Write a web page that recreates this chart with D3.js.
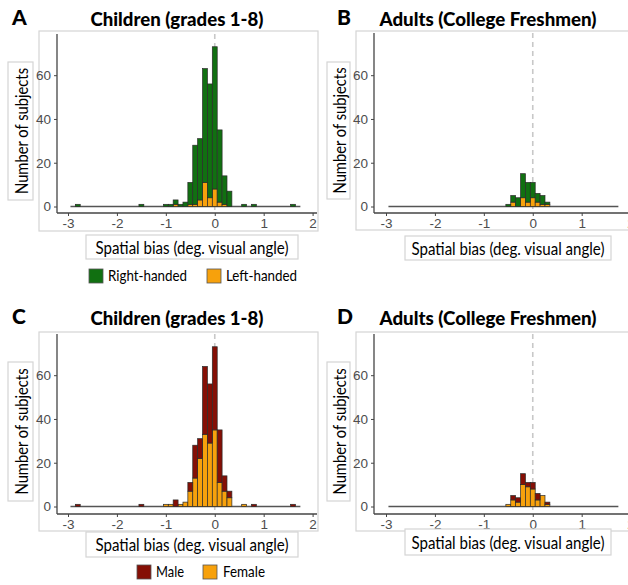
<!DOCTYPE html>
<html>
<head>
<meta charset="utf-8">
<script src="https://cdn.jsdelivr.net/npm/d3@7"></script>
<style>
body{margin:0;background:#fff}
</style>
</head>
<body>
<script>
// histogram bins (centres, binwidth 0.1 deg.)
const childBins   = [-2.8,-1.5,-1.0,-0.9,-0.8,-0.7,-0.6,-0.5,-0.4,-0.3,-0.2,-0.1,0.0,0.1,0.2,0.3,0.6,0.8,1.6];
const childRight  = [1,1,1,1,2,1,2,10,27,28,52,52,65,33,13,7,1,1,1];
const childLeft   = [0,0,0,0,1,0,0,1,1,3,11,4,8,2,1,0,0,0,0];
const childMale   = [1,1,0,0,3,0,0,4,15,9,31,27,38,24,7,3,0,1,1];
const childFemale = [0,0,1,1,0,1,2,7,13,22,33,29,35,11,7,4,1,0,0];

const adultBins   = [-0.5,-0.4,-0.3,-0.2,-0.1,0.0,0.1,0.2,0.3];
const adultRight  = [1,3,4,11,9,7,4,4,1];
const adultLeft   = [0,2,0,4,2,4,2,1,1];
const adultMale   = [0,2,2,5,2,3,3,0,1];
const adultFemale = [1,3,2,10,9,8,3,5,1];

const xTicks = [-3,-2,-1,0,1,2];
const yTicks = [0,20,40,60];
const binW = 0.1;

const green = "#117011", orange = "#f7a10c", darkred = "#850f05";
const boxCol = "#d4d4d4";
const calibri = "Lato, 'Open Sans', sans-serif";

const svg = d3.select("body").append("svg")
    .attr("width",628)
    .attr("height",585);

// panel layouts (pixel frames)
const panels = [
  {letter:"A", title:"Children (grades 1-8)", bins:childBins, lower:childLeft, upper:childRight,
   cLow:orange, cUp:green, xl:68, axX:57, y0:206.5, axTop:34, axBot:213, frame:[39,31,279,200],
   ylab:[8,62,25,138], xlab:[86,235,212,24], titleX:177, titleY:26, letterX:12},
  {letter:"B", title:"Adults (College Freshmen)", bins:adultBins, lower:adultLeft, upper:adultRight,
   cLow:orange, cUp:green, xl:386, axX:374, y0:206.5, axTop:33, axBot:213, frame:[356,31,300,199],
   ylab:[327,62,23,137], xlab:[405,236,206,24], titleX:488, titleY:26, letterX:337},
  {letter:"C", title:"Children (grades 1-8)", bins:childBins, lower:childFemale, upper:childMale,
   cLow:orange, cUp:darkred, xl:68, axX:57, y0:506.5, axTop:334, axBot:514, frame:[39,332,279,199],
   ylab:[8,362,25,139], xlab:[86,532,212,25], titleX:177, titleY:325, letterX:12},
  {letter:"D", title:"Adults (College Freshmen)", bins:adultBins, lower:adultFemale, upper:adultMale,
   cLow:orange, cUp:darkred, xl:386, axX:374, y0:506.5, axTop:334, axBot:514, frame:[356,332,300,199],
   ylab:[327,362,23,139], xlab:[405,529,206,26], titleX:488, titleY:325, letterX:337}
];

panels.forEach(p => {
  const g = svg.append("g");
  const x = d3.scaleLinear().domain([-3,2]).range([p.xl, p.xl + 244.6]);
  const y = d3.scaleLinear().domain([0,60]).range([p.y0, p.y0 - 131.3]);

  // panel frame
  g.append("rect")
    .attr("x",p.frame[0]).attr("y",p.frame[1])
    .attr("width",p.frame[2]).attr("height",p.frame[3])
    .attr("fill","none").attr("stroke",boxCol).attr("stroke-width",1.2);

  // dashed reference at zero
  g.append("line")
    .attr("x1",x(0)).attr("x2",x(0))
    .attr("y1",p.axTop).attr("y2",p.axBot)
    .attr("stroke","#c8c8c8").attr("stroke-width",1.6)
    .attr("stroke-dasharray","5,4");

  // empty-bin baseline
  g.append("line")
    .attr("x1",x(-2.95)).attr("x2",x(1.75))
    .attr("y1",y(0)).attr("y2",y(0))
    .attr("stroke","#555").attr("stroke-width",1.3);

  const rows = p.bins.map((b,i) => ({b:b, lo:p.lower[i], up:p.upper[i]}));

  g.selectAll(".lo").data(rows.filter(d => d.lo > 0)).enter()
    .append("rect")
    .attr("x",d => x(d.b - binW/2))
    .attr("width",d => x(d.b + binW/2) - x(d.b - binW/2))
    .attr("y",d => y(d.lo))
    .attr("height",d => y(0) - y(d.lo))
    .attr("fill",p.cLow).attr("stroke","#2b2b2b").attr("stroke-width",0.7);

  g.selectAll(".up").data(rows.filter(d => d.up > 0)).enter()
    .append("rect")
    .attr("x",d => x(d.b - binW/2))
    .attr("width",d => x(d.b + binW/2) - x(d.b - binW/2))
    .attr("y",d => y(d.lo + d.up))
    .attr("height",d => y(d.lo) - y(d.lo + d.up))
    .attr("fill",p.cUp).attr("stroke","#2b2b2b").attr("stroke-width",0.7);

  // axes
  const yAx = g.append("g")
    .attr("transform",`translate(${p.axX},0)`)
    .call(d3.axisLeft(y).tickValues(yTicks).tickSize(3).tickSizeOuter(0).tickPadding(3));
  yAx.select(".domain").attr("d",`M0,${p.axTop}V${p.axBot}`);
  const xAx = g.append("g")
    .attr("transform",`translate(0,${p.axBot})`)
    .call(d3.axisBottom(x).tickValues(xTicks).tickSize(3).tickSizeOuter(0).tickPadding(2));
  xAx.select(".domain").attr("d",`M${p.axX},0H${p.frame[0]+p.frame[2]-1}`);
  [yAx,xAx].forEach(a => {
    a.select(".domain").attr("stroke","#444").attr("stroke-width",1.3);
    a.selectAll(".tick line").attr("stroke","#444");
    a.selectAll("text").attr("fill","#4d4d4d")
      .style("font-family","'Liberation Sans', Arial, sans-serif").style("font-size","13.5px");
  });
  xAx.selectAll("text").text(d => d);

  // title and panel letter
  g.append("text")
    .attr("x",p.titleX).attr("y",p.titleY)
    .attr("text-anchor","middle")
    .attr("textLength",p.letter==="A"||p.letter==="C" ? 173 : 217)
    .attr("lengthAdjust","spacingAndGlyphs")
    .style("font-family",calibri).style("font-weight","900").style("font-size","19px")
    .text(p.title);
  g.append("text")
    .attr("x",p.letterX).attr("y",p.titleY - 1)
    .style("font-family",calibri).style("font-weight","900").style("font-size","21px")
    .text(p.letter);

  // y label box
  g.append("rect")
    .attr("x",p.ylab[0]).attr("y",p.ylab[1]).attr("width",p.ylab[2]).attr("height",p.ylab[3])
    .attr("fill","#fff").attr("stroke",boxCol).attr("stroke-width",1.2);
  g.append("text")
    .attr("transform",`translate(${p.ylab[0]+p.ylab[2]/2+0.5},${p.ylab[1]+p.ylab[3]/2}) rotate(-90)`)
    .attr("text-anchor","middle").attr("dominant-baseline","central")
    .attr("textLength",126).attr("lengthAdjust","spacingAndGlyphs")
    .style("font-family",calibri).style("font-size","17px")
    .text("Number of subjects");

  // x label box
  g.append("rect")
    .attr("x",p.xlab[0]).attr("y",p.xlab[1]).attr("width",p.xlab[2]).attr("height",p.xlab[3])
    .attr("fill","#fff").attr("stroke",boxCol).attr("stroke-width",1.2);
  g.append("text")
    .attr("x",p.xlab[0]+p.xlab[2]/2).attr("y",p.xlab[1]+p.xlab[3]/2)
    .attr("text-anchor","middle").attr("dominant-baseline","central")
    .attr("textLength",193).attr("lengthAdjust","spacingAndGlyphs")
    .style("font-family",calibri).style("font-size","17px")
    .text("Spatial bias (deg. visual angle)");
});

// legends
const legends = [
  {items:["Right-handed","Left-handed"], cols:[green,orange], sx:[89,207], tx:[108,226], lens:[79,71], y:269},
  {items:["Male","Female"], cols:[darkred,orange], sx:[137,203], tx:[156,223], lens:[28,42], y:565}
];
legends.forEach(l => {
  l.items.forEach((name,i) => {
    svg.append("rect")
      .attr("x",l.sx[i]).attr("y",l.y).attr("width",14).attr("height",14)
      .attr("fill",l.cols[i]).attr("stroke","#555").attr("stroke-width",0.8);
    svg.append("text")
      .attr("x",l.tx[i]).attr("y",l.y+12)
      .attr("textLength",l.lens[i]).attr("lengthAdjust","spacingAndGlyphs")
      .style("font-family",calibri).style("font-size","16px")
      .text(name);
  });
});
</script>
</body>
</html>
